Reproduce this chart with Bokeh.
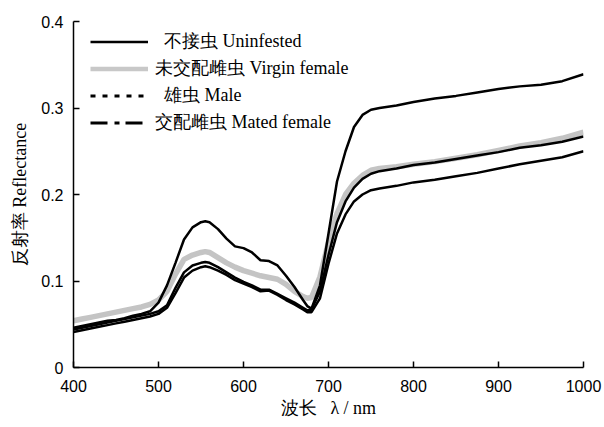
from bokeh.plotting import figure
from bokeh.models import FixedTicker, Legend, LegendItem
from bokeh.embed import file_html
from bokeh.resources import INLINE

# ---------------- data ----------------
wavelength = [400, 410, 420, 430, 440, 450, 460, 470, 480, 490,
              500, 510, 520, 530, 540, 550, 555, 560, 570, 580,
              590, 600, 610, 620, 630, 640, 650, 660, 670, 675,
              680, 690, 700, 710, 720, 730, 740, 750, 760, 780,
              800, 825, 850, 875, 900, 925, 950, 975, 1000]

uninfested = [0.046, 0.048, 0.050, 0.052, 0.054, 0.055, 0.057, 0.060, 0.062, 0.065,
              0.075, 0.095, 0.121, 0.148, 0.162, 0.168, 0.169, 0.168, 0.160, 0.149,
              0.140, 0.138, 0.133, 0.124, 0.123, 0.118, 0.106, 0.093, 0.078, 0.071,
              0.068, 0.095, 0.155, 0.215, 0.250, 0.278, 0.292, 0.298, 0.300, 0.303,
              0.307, 0.311, 0.314, 0.318, 0.322, 0.325, 0.327, 0.331, 0.339]

virgin_female = [0.054, 0.056, 0.058, 0.060, 0.062, 0.064, 0.066, 0.068, 0.070, 0.073,
                 0.078, 0.088, 0.108, 0.125, 0.130, 0.133, 0.134, 0.133, 0.127, 0.121,
                 0.116, 0.112, 0.109, 0.106, 0.104, 0.102, 0.096, 0.088, 0.082, 0.080,
                 0.081, 0.105, 0.145, 0.178, 0.200, 0.213, 0.222, 0.228, 0.230, 0.232,
                 0.235, 0.238, 0.242, 0.246, 0.251, 0.256, 0.260, 0.265, 0.272]

male = [0.044, 0.046, 0.048, 0.050, 0.052, 0.054, 0.056, 0.058, 0.060, 0.062,
        0.065, 0.072, 0.092, 0.110, 0.118, 0.121, 0.122, 0.121, 0.116, 0.110,
        0.104, 0.099, 0.095, 0.090, 0.090, 0.085, 0.080, 0.075, 0.069, 0.066,
        0.067, 0.088, 0.130, 0.168, 0.192, 0.208, 0.218, 0.224, 0.227, 0.230,
        0.234, 0.237, 0.241, 0.245, 0.249, 0.254, 0.257, 0.261, 0.267]

mated_female = [0.041, 0.043, 0.045, 0.047, 0.049, 0.051, 0.053, 0.055, 0.057, 0.059,
                0.062, 0.069, 0.086, 0.104, 0.112, 0.116, 0.117, 0.116, 0.112, 0.107,
                0.101, 0.097, 0.093, 0.088, 0.089, 0.084, 0.078, 0.073, 0.067, 0.064,
                0.064, 0.080, 0.120, 0.155, 0.177, 0.192, 0.200, 0.205, 0.207, 0.210,
                0.214, 0.217, 0.221, 0.225, 0.230, 0.235, 0.239, 0.243, 0.250]

labels = ["\u2002不接虫 Uninfested", "未交配雌虫 Virgin female",
          "\u2002雄虫 Male", "交配雌虫 Mated female"]

x_ticks = [400, 500, 600, 700, 800, 900, 1000]
y_ticks = [0, 0.1, 0.2, 0.3, 0.4]

# ---------------- figure ----------------
p = figure(width=602, height=425, output_backend="svg", toolbar_location=None,
           x_range=(400, 1000), y_range=(0, 0.4),
           min_border_left=73, min_border_right=19, min_border_top=21, min_border_bottom=58)
p.outline_line_color = None
p.grid.visible = False
p.background_fill_color = "white"
p.border_fill_color = "white"

# curves (grey drawn first, black curves on top)
p.line(wavelength, virgin_female, line_color="#c4c4c4", line_width=5.5)
p.line(wavelength, uninfested, line_color="black", line_width=2.5)
p.line(wavelength, male, line_color="black", line_width=2.5)
p.line(wavelength, mated_female, line_color="black", line_width=2.5)

# legend samples (styles as shown in the legend); a single NaN point, nothing drawn in the plot
nan = float("nan")
l_u = p.line([nan], [nan], line_color="black", line_width=2.5)
l_v = p.line([nan], [nan], line_color="#c8c8c8", line_width=4.5)
l_m = p.line([nan], [nan], line_color="black", line_width=3, line_dash="5 7")
l_f = p.line([nan], [nan], line_color="black", line_width=3, line_dash="17 7 5 6")

legend = Legend(items=[LegendItem(label=labels[0], renderers=[l_u]),
                       LegendItem(label=labels[1], renderers=[l_v]),
                       LegendItem(label=labels[2], renderers=[l_m]),
                       LegendItem(label=labels[3], renderers=[l_f])],
                location=(17, 233), padding=0, margin=0, spacing=3,
                glyph_width=58, glyph_height=23, label_height=23, label_standoff=7,
                label_text_font="Liberation Serif", label_text_font_size="18px",
                label_text_color="black",
                border_line_color=None, background_fill_alpha=0)
p.add_layout(legend, "center")

# axes
for ax in (p.xaxis[0], p.yaxis[0]):
    ax.axis_line_color = "black"
    ax.axis_line_width = 1.5
    ax.major_tick_line_color = "black"
    ax.major_tick_line_width = 1.5
    ax.major_tick_in = 6
    ax.major_tick_out = 0
    ax.minor_tick_line_color = None
    ax.major_label_text_font = "Liberation Sans"
    ax.major_label_text_font_size = "16px"
    ax.major_label_text_color = "black"
    ax.axis_label_text_font = "Liberation Serif"
    ax.axis_label_text_font_size = "18px"
    ax.axis_label_text_font_style = "normal"
    ax.axis_label_text_color = "black"

p.xaxis.ticker = FixedTicker(ticks=x_ticks)
p.yaxis.ticker = FixedTicker(ticks=y_ticks)
p.yaxis.major_label_overrides = {0: "0"}
p.xaxis.axis_label = "波长 \u2002λ / nm"
p.yaxis.axis_label = "反射率 Reflectance"
p.xaxis.major_label_standoff = 12
p.xaxis.axis_label_standoff = 3
p.yaxis.major_label_standoff = 10
p.yaxis.axis_label_standoff = 8

open("out.html", "w").write(file_html(p, INLINE))
